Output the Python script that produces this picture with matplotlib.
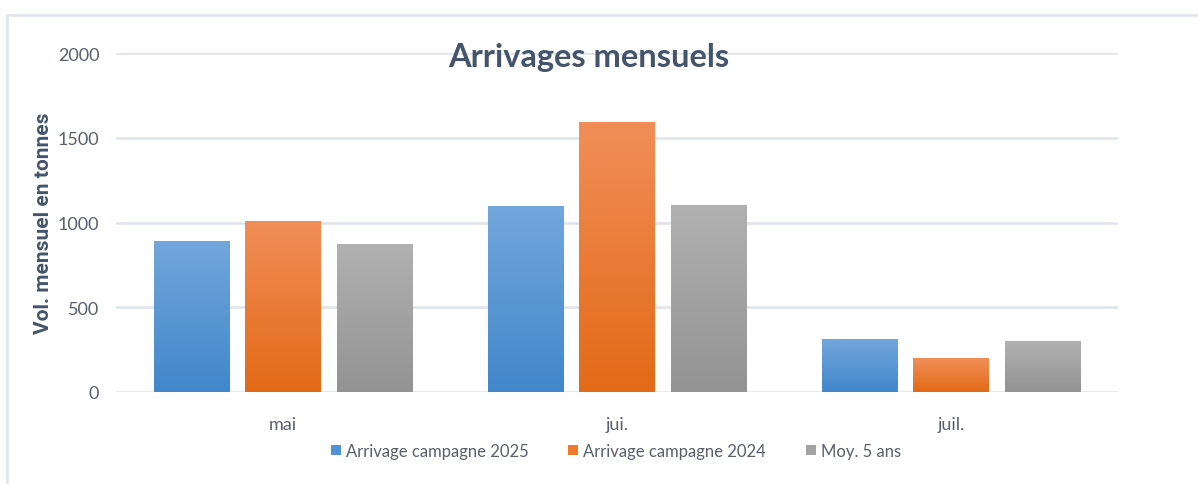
import numpy as np
import matplotlib.pyplot as plt
from matplotlib.colors import LinearSegmentedColormap
from matplotlib.lines import Line2D
from matplotlib.patches import Patch

plt.rcParams["font.family"] = ["Lato", "DejaVu Sans"]

# Data
months = ["mai", "jui.", "juil."]
arrivage_2025 = [892, 1096, 313]
arrivage_2024 = [1012, 1592, 200]
moy_5_ans = [876, 1105, 300]
series_labels = ["Arrivage campagne 2025", "Arrivage campagne 2024", "Moy. 5 ans"]

# (top colour, bottom colour) for the gradient fills
gradients = [("#72a7dc", "#4187cb"), ("#f18e58", "#e36a17"), ("#b1b1b1", "#939393")]
legend_cols = ["#4f93d6", "#ef7a2c", "#a3a3a3"]

text_col = "#595f6b"
title_col = "#44546a"
grid_col = "#dfe3ea"

fig = plt.figure(figsize=(11.98, 4.85), dpi=100)
ax = fig.add_axes([116/1198, 1-393/485, (1118-116)/1198, (393-54.3)/485])

x = np.arange(len(months))
width = 0.225
step = 0.275
all_series = [arrivage_2025, arrivage_2024, moy_5_ans]

grad = np.linspace(1, 0, 256).reshape(-1, 1)
for i, vals in enumerate(all_series):
    cmap = LinearSegmentedColormap.from_list("g%d" % i, [gradients[i][1], gradients[i][0]])
    bars = ax.bar(x + (i-1)*step, vals, width, color="none", edgecolor="none", zorder=2)
    for b in bars:
        bx, bw, bh = b.get_x(), b.get_width(), b.get_height()
        im = ax.imshow(grad, cmap=cmap, aspect="auto", extent=[bx, bx+bw, 0, bh],
                       zorder=2, vmin=0, vmax=1)
        im.set_clip_path(b)

ax.set_xlim(-0.5, 2.5)
ax.set_ylim(0, 2000)
ax.set_yticks([0, 500, 1000, 1500, 2000])
ax.set_xticks(x)
ax.set_xticklabels(months)
ax.grid(axis="y", color=grid_col, linewidth=1.8, zorder=0)
ax.set_axisbelow(True)
for s in ax.spines.values():
    s.set_visible(False)
ax.tick_params(axis="both", length=0, labelsize=13, colors=text_col)
ax.tick_params(axis="y", pad=12)
ax.tick_params(axis="x", pad=17)

ax.set_ylabel("Vol. mensuel en tonnes", fontsize=15, fontweight="bold",
              color=title_col, family=["Roboto", "DejaVu Sans"])
ax.yaxis.set_label_coords(-0.063, 0.5)

fig.text(589/1198, 1-57/485, "Arrivages mensuels", ha="center", va="center",
         fontsize=23.5, fontweight="bold", color=title_col)

handles = [Patch(facecolor=c, edgecolor="none") for c in legend_cols]
fig.legend(handles, series_labels, loc="center", bbox_to_anchor=(616/1198, 1-452/485),
           ncol=3, frameon=False, fontsize=12, labelcolor=text_col,
           handlelength=0.6, handleheight=0.6, handletextpad=0.3, columnspacing=2.4)

# outer chart frame (left and top edges)
fig.add_artist(Line2D([7/1198, 7/1198], [0, 1-16/485], color=grid_col, lw=1.8,
                      transform=fig.transFigure))
fig.add_artist(Line2D([7/1198, 1], [1-16/485, 1-16/485], color=grid_col, lw=1.8,
                      transform=fig.transFigure))

fig.savefig("out.png", dpi=100)
